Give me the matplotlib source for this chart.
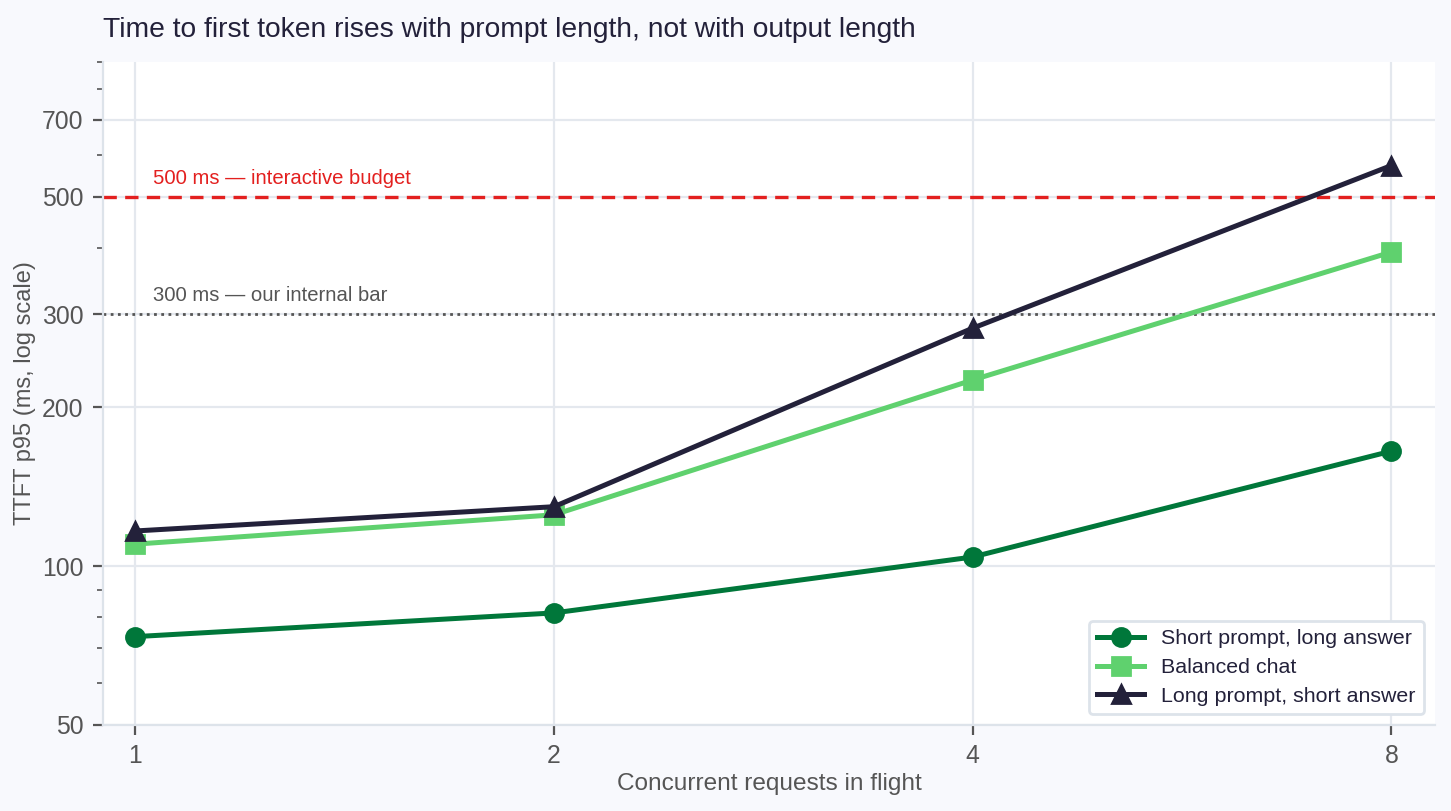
import numpy as np
import matplotlib.pyplot as plt
from matplotlib.ticker import FixedLocator, NullFormatter, LogLocator

plt.rcParams['font.family'] = ['Liberation Sans', 'DejaVu Sans']

concurrency = [1, 2, 4, 8]
short_prompt = [73.5, 81.5, 104, 165]
balanced = [110, 125, 225, 393]
long_prompt = [116.5, 129.5, 282, 573]

series_names = ["Short prompt, long answer", "Balanced chat", "Long prompt, short answer"]
y_ticks = [50, 100, 200, 300, 500, 700]

fig = plt.figure(figsize=(7.255, 4.055), dpi=200, facecolor="#f8f9fd")
ax = fig.add_axes([103 / 1451, 1 - 725 / 811, (1435 - 103) / 1451, (725 - 62) / 811])
ax.set_facecolor("white")

ax.set_xscale("log", base=2)
ax.set_yscale("log")

ax.plot(concurrency, short_prompt, color="#00773a", lw=1.8, marker="o", ms=6.5,
        label=series_names[0], zorder=3)
ax.plot(concurrency, balanced, color="#5fd16e", lw=1.8, marker="s", ms=6.5,
        label=series_names[1], zorder=3)
ax.plot(concurrency, long_prompt, color="#23213a", lw=1.8, marker="^", ms=6.5,
        label=series_names[2], zorder=4)

ax.axhline(500, color="#e3201f", lw=1.2, ls=(0, (4, 2.5)), zorder=2)
ax.axhline(300, color="#555555", lw=1.0, ls=(0, (1, 1.6)), zorder=2)
ax.text(1.03, 520, "500 ms \u2014 interactive budget", color="#e3201f", fontsize=7.3,
        va="bottom", ha="left")
ax.text(1.03, 312, "300 ms \u2014 our internal bar", color="#555555", fontsize=7.3,
        va="bottom", ha="left")

ax.set_xlim(0.948, 8.6)
ax.set_ylim(50, 900)

ax.xaxis.set_major_locator(FixedLocator(concurrency))
ax.xaxis.set_major_formatter(plt.FuncFormatter(lambda v, p: f"{v:g}"))
ax.xaxis.set_minor_locator(plt.NullLocator())
ax.yaxis.set_major_locator(FixedLocator(y_ticks))
ax.yaxis.set_major_formatter(plt.FuncFormatter(lambda v, p: f"{v:g}"))
ax.yaxis.set_minor_locator(LogLocator(base=10, subs=np.arange(2, 10)))
ax.yaxis.set_minor_formatter(NullFormatter())

ax.grid(True, which="major", color="#e4e8ee", lw=0.8, zorder=0)
for s in ["top", "right"]:
    ax.spines[s].set_visible(False)
for s in ["left", "bottom"]:
    ax.spines[s].set_color("#dde3ea")
    ax.spines[s].set_linewidth(0.8)

ax.tick_params(axis="both", which="major", labelsize=8.9, colors="#555555",
               length=3.5, width=0.8, labelcolor="#555555")
ax.tick_params(axis="y", which="minor", length=2, width=0.6, colors="#555555")

ax.set_xlabel("Concurrent requests in flight", fontsize=8.8, color="#555555", labelpad=1.5)
ax.set_ylabel("TTFT p95 (ms, log scale)", fontsize=8.5, color="#555555", labelpad=2)
ax.set_title("Time to first token rises with prompt length, not with output length",
             loc="left", fontsize=10.2, color="#23213a", pad=9)

leg = ax.legend(loc="lower right", fontsize=7.7, frameon=True, facecolor="white",
                edgecolor="#dde3ea", framealpha=1, borderpad=0.4, labelspacing=0.45,
                handlelength=2.2)
for t in leg.get_texts():
    t.set_color("#23213a")

fig.savefig("out.png", dpi=200, facecolor=fig.get_facecolor())
